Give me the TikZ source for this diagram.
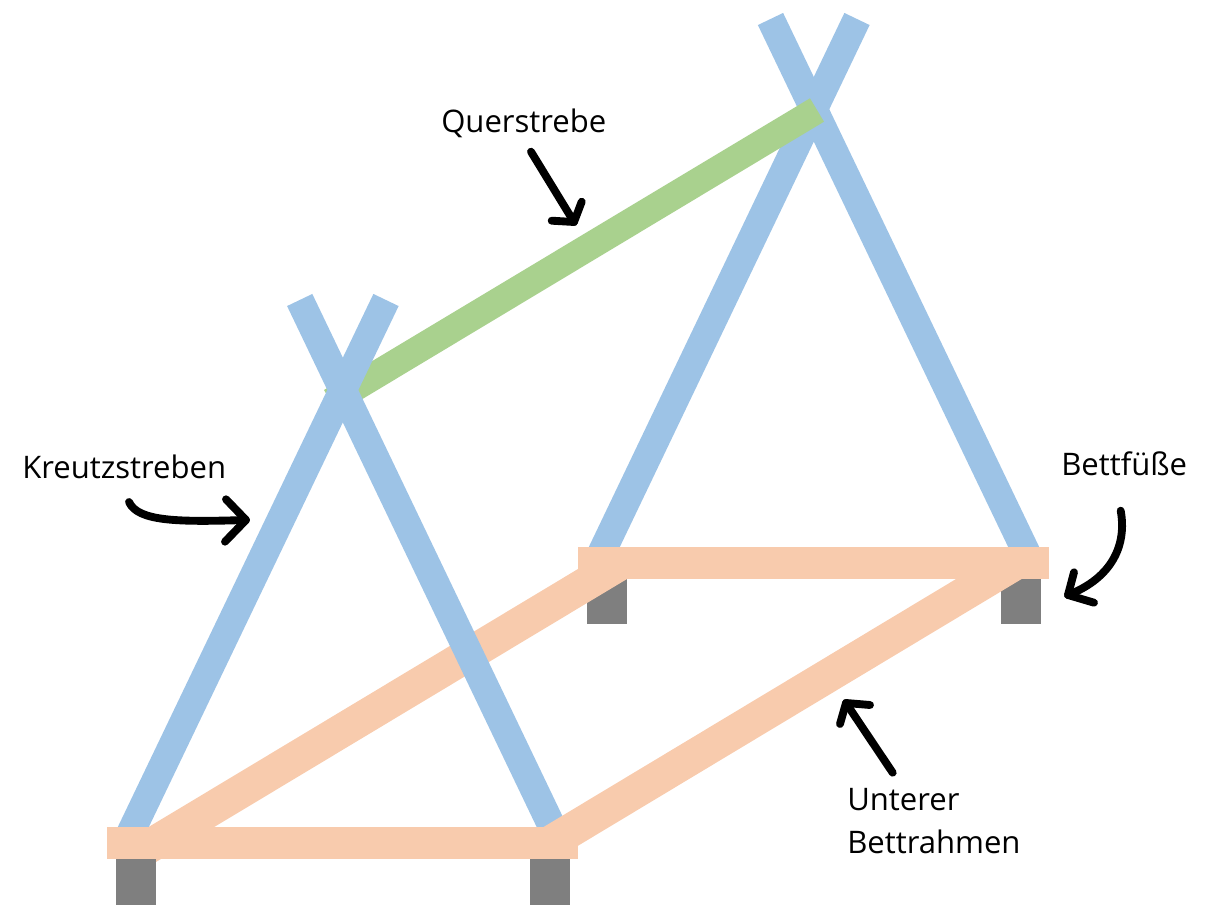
\documentclass[tikz,border=0pt]{standalone}
\usepackage{fontspec}
\setmainfont{Open Sans}
\definecolor{barblue}{HTML}{9DC3E6}
\definecolor{barpeach}{HTML}{F8CBAD}
\definecolor{bargreen}{HTML}{A9D18E}
\definecolor{bargray}{HTML}{7F7F7F}
\tikzset{
  strut/.style={barblue,line width=21pt},
  foot/.style={fill=bargray,draw=none},
  frame/.style={fill=barpeach,draw=none},
  stroke/.style={black,line width=5.9pt,line cap=round,line join=round},
  lbl/.style={inner sep=0pt,anchor=base west,font=\fontsize{23.3}{23.3}\selectfont}
}
\begin{document}
\begin{tikzpicture}[x=0.75pt,y=-0.75pt]
\useasboundingbox (0,0) rectangle (1208,919);
% back feet
\fill[foot] (587,579) rectangle (627,624);
\fill[foot] (1001,579) rectangle (1041,624);
% left frame diagonal
\fill[frame] (138.6,833) -- (156,862) -- (627,579) -- (609.6,550) -- cycle;
% front feet
\fill[foot] (116,859) rectangle (156,905);
\fill[foot] (530,859) rectangle (570,905);
% right cross, green strut on top of it
\draw[strut] (770.5,19) -- (1028,556);
\draw[strut] (857,19) -- (600,556);
\fill[bargreen] (324,390) -- (338,413.7) -- (824,121.7) -- (810,98.3) -- cycle;
% left cross covers the green strut and the left diagonal
\draw[strut] (299.7,300) -- (556.5,836);
\draw[strut] (386,300) -- (129,836);
% right frame diagonal lies on the left cross
\fill[frame] (533.6,833) -- (551,862) -- (1021.7,579) -- (1004.3,550) -- cycle;
% front foot again where the right diagonal would overlap it
\fill[foot] (530,859) rectangle (570,905);
% rails
\fill[frame] (107,827) rectangle (578,859);
\fill[frame] (578,547) rectangle (1049,579);
% arrows
\draw[stroke] (129,502) .. controls (138,522) and (180,522) .. (246,520);
\draw[stroke] (226,499.3) -- (246,520) -- (225,541.7);
\draw[stroke] (531,151.7) -- (574,222);
\draw[stroke] (551.7,220.7) -- (574,222) -- (581.7,201.7);
\draw[stroke] (1120.7,510.7) .. controls (1127,545) and (1112,578) .. (1068,595);
\draw[stroke] (1074,572.3) -- (1068,595) -- (1094,602.7);
\draw[stroke] (892.7,772.7) -- (846,703);
\draw[stroke] (840,724) -- (846,703) -- (870,705);
% labels
\node[lbl] (kreutz) at (22,478.5) {Kreutzstreben};
\node[lbl] (quer) at (441,133) {Querstrebe};
\node[lbl] (fuesse) at (1061,475.5) {Bettfüße};
\node[lbl] (unterer) at (847,811) {Unterer};
\node[lbl] (bettrahmen) at (847,854) {Bettrahmen};
\end{tikzpicture}
\end{document}
